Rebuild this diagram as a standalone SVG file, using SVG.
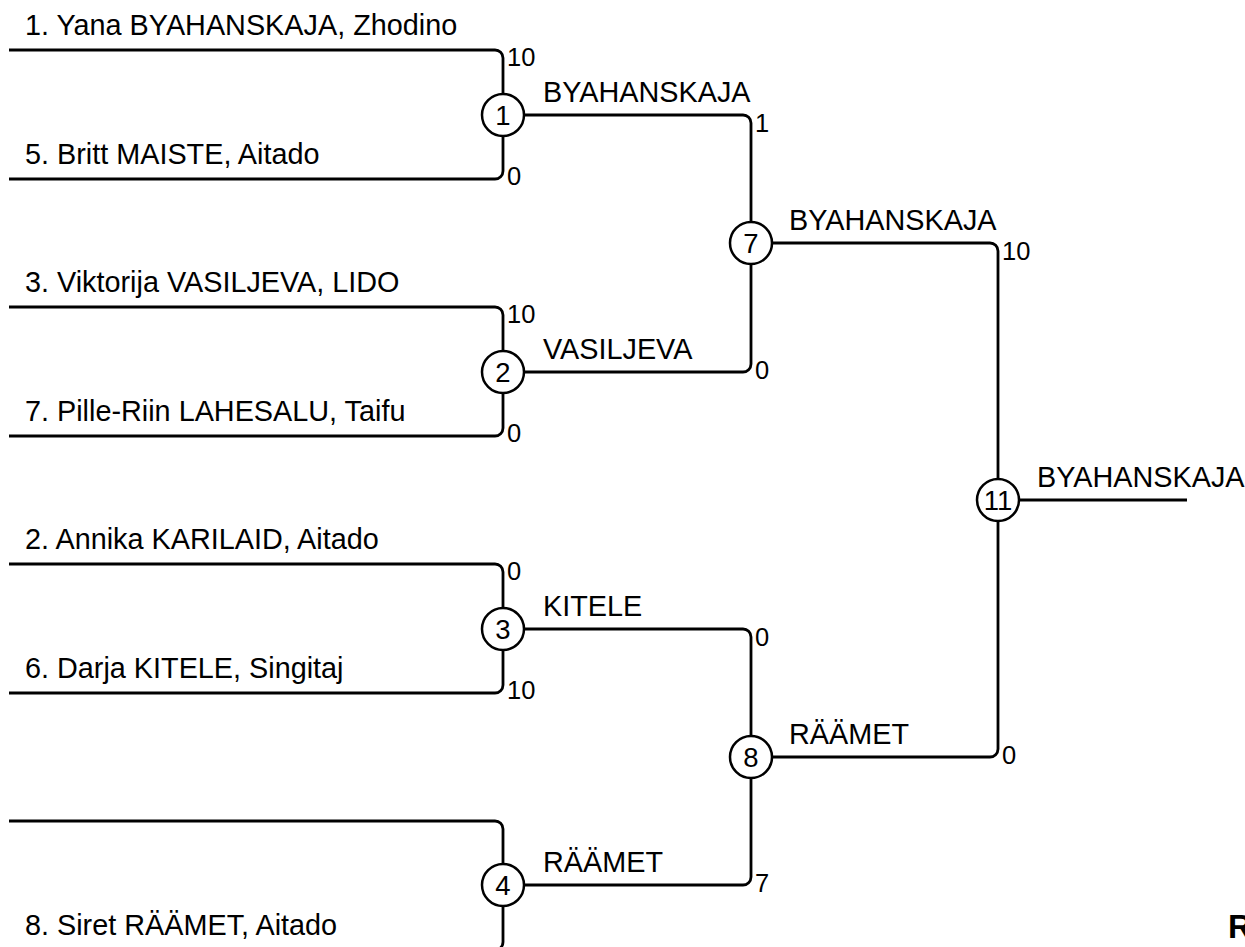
<svg xmlns="http://www.w3.org/2000/svg" width="1245" height="947" viewBox="0 0 1245 947">
<style>
.ln{fill:none;stroke:#000;stroke-width:2.8}
.c{fill:#fff;stroke:#000;stroke-width:2.5}
text{font-family:"Liberation Sans",Arial,sans-serif;fill:#000}
.nm{font-size:28.8px}
.sc{font-size:25.5px}
.cn{font-size:27.5px;text-anchor:middle}
</style>
<rect width="1245" height="947" fill="#fff"/>
<g id="connectors">
<path class="ln" d="M9,50 H495 A8,8 0 0 1 503,58 V94"/>
<path class="ln" d="M9,179 H495 A8,8 0 0 0 503,171 V136"/>
<path class="ln" d="M9,307 H495 A8,8 0 0 1 503,315 V351"/>
<path class="ln" d="M9,436 H495 A8,8 0 0 0 503,428 V393"/>
<path class="ln" d="M9,564 H495 A8,8 0 0 1 503,572 V608"/>
<path class="ln" d="M9,693 H495 A8,8 0 0 0 503,685 V650"/>
<path class="ln" d="M9,821 H495 A8,8 0 0 1 503,829 V864"/>
<path class="ln" d="M9,950 H495 A8,8 0 0 0 503,942 V906"/>
<path class="ln" d="M524,115 H743 A8,8 0 0 1 751,123 V222"/>
<path class="ln" d="M524,372 H743 A8,8 0 0 0 751,364 V264"/>
<path class="ln" d="M524,629 H743 A8,8 0 0 1 751,637 V736"/>
<path class="ln" d="M524,885 H743 A8,8 0 0 0 751,877 V778"/>
<path class="ln" d="M772,243 H990 A8,8 0 0 1 998,251 V479"/>
<path class="ln" d="M772,757 H990 A8,8 0 0 0 998,749 V521"/>
<path class="ln" d="M1019,500 H1187"/>
</g>
<g id="entrants">
<text class="nm" x="25" y="35">1. Yana BYAHANSKAJA, Zhodino</text>
<text class="nm" x="25" y="164">5. Britt MAISTE, Aitado</text>
<text class="nm" x="25" y="292">3. Viktorija VASILJEVA, LIDO</text>
<text class="nm" x="25" y="421">7. Pille-Riin LAHESALU, Taifu</text>
<text class="nm" x="25" y="549">2. Annika KARILAID, Aitado</text>
<text class="nm" x="25" y="678">6. Darja KITELE, Singitaj</text>
<text class="nm" x="25" y="935">8. Siret RÄÄMET, Aitado</text>
</g>
<g id="match1">
<circle class="c" cx="503" cy="115" r="21"/>
<text class="cn" x="503" y="125">1</text>
<text class="sc" x="507" y="66">10</text>
<text class="sc" x="507" y="185">0</text>
<text class="nm" x="543" y="102">BYAHANSKAJA</text>
</g>
<g id="match2">
<circle class="c" cx="503" cy="372" r="21"/>
<text class="cn" x="503" y="382">2</text>
<text class="sc" x="507" y="323">10</text>
<text class="sc" x="507" y="442">0</text>
<text class="nm" x="543" y="359">VASILJEVA</text>
</g>
<g id="match3">
<circle class="c" cx="503" cy="629" r="21"/>
<text class="cn" x="503" y="639">3</text>
<text class="sc" x="507" y="580">0</text>
<text class="sc" x="507" y="699">10</text>
<text class="nm" x="543" y="616">KITELE</text>
</g>
<g id="match4">
<circle class="c" cx="503" cy="885" r="21"/>
<text class="cn" x="503" y="895">4</text>
<text class="nm" x="543" y="872">RÄÄMET</text>
</g>
<g id="match7">
<circle class="c" cx="751" cy="243" r="21"/>
<text class="cn" x="751" y="253">7</text>
<text class="sc" x="755" y="132">1</text>
<text class="sc" x="755" y="379">0</text>
<text class="nm" x="789" y="230">BYAHANSKAJA</text>
</g>
<g id="match8">
<circle class="c" cx="751" cy="757" r="21"/>
<text class="cn" x="751" y="767">8</text>
<text class="sc" x="755" y="646">0</text>
<text class="sc" x="755" y="892">7</text>
<text class="nm" x="789" y="744">RÄÄMET</text>
</g>
<g id="match11">
<circle class="c" cx="998" cy="500" r="21"/>
<text class="cn" x="998" y="510">11</text>
<text class="sc" x="1002" y="260">10</text>
<text class="sc" x="1002" y="764">0</text>
<text class="nm" x="1037" y="487">BYAHANSKAJA</text>
</g>
<text x="1228" y="938" font-size="33" font-weight="bold">R</text>
</svg>
